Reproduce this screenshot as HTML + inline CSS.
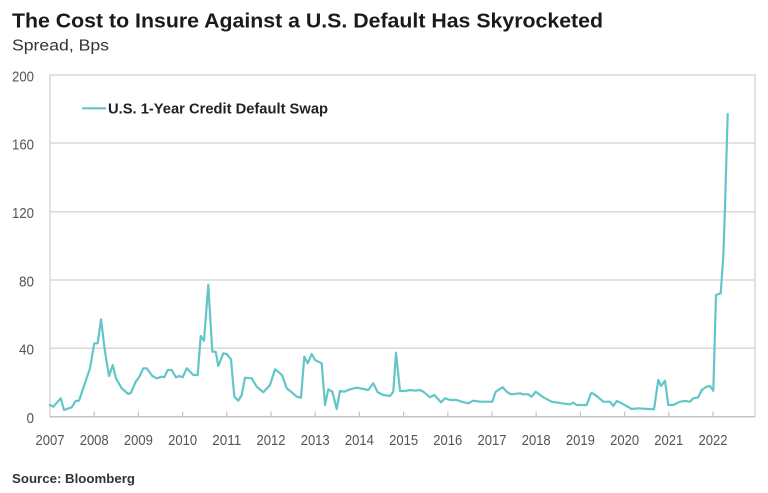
<!DOCTYPE html>
<html><head><meta charset="utf-8"><style>
html,body{margin:0;padding:0;background:#fff;}
svg{display:block;}
text{font-family:"Liberation Sans",Arial,sans-serif;}
</style></head><body>
<svg width="768" height="493" viewBox="0 0 768 493" xmlns="http://www.w3.org/2000/svg">
<rect width="768" height="493" fill="#fff"/>
<text x="12" y="27.5" font-size="20" font-weight="bold" fill="#1a1a1a" textLength="591" lengthAdjust="spacingAndGlyphs">The Cost to Insure Against a U.S. Default Has Skyrocketed</text>
<text x="12" y="50.5" font-size="15.5" fill="#333" textLength="97" lengthAdjust="spacingAndGlyphs">Spread, Bps</text>
<!-- gridlines -->
<g stroke="#d9d9d9" stroke-width="1.5" fill="none">
<line x1="50" y1="143" x2="755" y2="143"/>
<line x1="50" y1="211.7" x2="755" y2="211.7"/>
<line x1="50" y1="280" x2="755" y2="280"/>
<line x1="50" y1="348.3" x2="755" y2="348.3"/>
<rect x="50" y="75" width="705" height="341.7"/>
</g>
<line x1="50" y1="416.7" x2="755" y2="416.7" stroke="#c4c4c4" stroke-width="1.5"/>
<g stroke="#c4c4c4" stroke-width="1.2">
<line x1="94.2" y1="411.5" x2="94.2" y2="416.7"/>
<line x1="138.4" y1="411.5" x2="138.4" y2="416.7"/>
<line x1="182.6" y1="411.5" x2="182.6" y2="416.7"/>
<line x1="226.8" y1="411.5" x2="226.8" y2="416.7"/>
<line x1="271" y1="411.5" x2="271" y2="416.7"/>
<line x1="315.2" y1="411.5" x2="315.2" y2="416.7"/>
<line x1="359.4" y1="411.5" x2="359.4" y2="416.7"/>
<line x1="403.6" y1="411.5" x2="403.6" y2="416.7"/>
<line x1="447.8" y1="411.5" x2="447.8" y2="416.7"/>
<line x1="492" y1="411.5" x2="492" y2="416.7"/>
<line x1="536.2" y1="411.5" x2="536.2" y2="416.7"/>
<line x1="580.4" y1="411.5" x2="580.4" y2="416.7"/>
<line x1="624.6" y1="411.5" x2="624.6" y2="416.7"/>
<line x1="668.8" y1="411.5" x2="668.8" y2="416.7"/>
<line x1="713" y1="411.5" x2="713" y2="416.7"/>
</g>
<!-- y labels -->
<g font-size="15" fill="#555" text-anchor="end">
<text x="34" y="81.5" textLength="22" lengthAdjust="spacingAndGlyphs">200</text>
<text x="34" y="149.5" textLength="22" lengthAdjust="spacingAndGlyphs">160</text>
<text x="34" y="218" textLength="22" lengthAdjust="spacingAndGlyphs">120</text>
<text x="34" y="286.5" textLength="15" lengthAdjust="spacingAndGlyphs">80</text>
<text x="34" y="354.5" textLength="15" lengthAdjust="spacingAndGlyphs">40</text>
<text x="34" y="423" textLength="7.5" lengthAdjust="spacingAndGlyphs">0</text>
</g>
<!-- x labels -->
<g font-size="15" fill="#555" text-anchor="middle">
<text x="50" y="445" textLength="29" lengthAdjust="spacingAndGlyphs">2007</text>
<text x="94.2" y="445" textLength="29" lengthAdjust="spacingAndGlyphs">2008</text>
<text x="138.4" y="445" textLength="29" lengthAdjust="spacingAndGlyphs">2009</text>
<text x="182.6" y="445" textLength="29" lengthAdjust="spacingAndGlyphs">2010</text>
<text x="226.8" y="445" textLength="29" lengthAdjust="spacingAndGlyphs">2011</text>
<text x="271" y="445" textLength="29" lengthAdjust="spacingAndGlyphs">2012</text>
<text x="315.2" y="445" textLength="29" lengthAdjust="spacingAndGlyphs">2013</text>
<text x="359.4" y="445" textLength="29" lengthAdjust="spacingAndGlyphs">2014</text>
<text x="403.6" y="445" textLength="29" lengthAdjust="spacingAndGlyphs">2015</text>
<text x="447.8" y="445" textLength="29" lengthAdjust="spacingAndGlyphs">2016</text>
<text x="492" y="445" textLength="29" lengthAdjust="spacingAndGlyphs">2017</text>
<text x="536.2" y="445" textLength="29" lengthAdjust="spacingAndGlyphs">2018</text>
<text x="580.4" y="445" textLength="29" lengthAdjust="spacingAndGlyphs">2019</text>
<text x="624.6" y="445" textLength="29" lengthAdjust="spacingAndGlyphs">2020</text>
<text x="668.8" y="445" textLength="29" lengthAdjust="spacingAndGlyphs">2021</text>
<text x="713" y="445" textLength="29" lengthAdjust="spacingAndGlyphs">2022</text>
</g>
<!-- legend -->
<line x1="82" y1="108.3" x2="106" y2="108.3" stroke="#62c6c9" stroke-width="2.2"/>
<text x="108" y="113.5" font-size="14.5" font-weight="bold" fill="#222" textLength="220" lengthAdjust="spacingAndGlyphs">U.S. 1-Year Credit Default Swap</text>
<!-- series -->
<polyline fill="none" stroke="#62c6c9" stroke-width="2.2" stroke-linejoin="round" stroke-linecap="round" points="
50,405 53.3,406.7 60.7,398.3 64,410 71.7,407.3 75.7,401 79,400.7 90,368.3 94.3,343.3 97.7,343.3 101,319.3 105,351.7 109,376 112.7,365 116,378.3 121.7,388.3 128.3,394 131,392.7 135.7,381.7 139,377.3 143.3,368.3 146.7,368.3 152.3,376 156.7,378.3 161.7,376.7 164.3,377.3 167.7,370 171.7,370 176,377.3 179.3,376 182.7,377.3 186.7,368.3 193.3,375 197.7,375 200.7,336 204,340.7 208.3,285 212.3,351.7 215.7,351.7 218.3,366 223.3,353.3 226.7,354 231,359.3 234.3,396.7 238.3,400.7 241.7,395 245,377.7 251.7,378.3 256.7,386.7 263.3,392.3 270,385 275,369.3 280,373.3 282.3,375.7 286.7,388.3 291.7,392.3 296.7,396.7 301,397.7 304.3,356.7 307.7,363.3 311.7,354 315,360 321.7,363.3 325,405 328.3,389.3 332.3,391.7 336.7,409 340,391 344.3,391.7 350,389.3 356.7,387.7 368.3,390 373.3,383.3 377.7,392.3 383.3,395 390,396 393.3,391.7 396,352.7 400,391 405,391 410,390 415,390.7 420,390 423.3,391.7 430,397.3 434.3,395 441,402.3 445,398.3 450,400 456.7,400 461.7,401.7 468.3,403.3 473.3,400.7 480,401.7 492.3,401.7 495.7,391.7 502.7,387.3 506.7,391.7 511,394.3 520,393.3 523.3,394.3 528.3,394.3 531.7,396.7 535.7,391.7 543.3,397.3 551.7,401.7 561.7,403.3 570,404.3 573.3,402.7 576.7,405 586.7,405 591,393.3 592.7,393.3 598.3,397.3 603.3,401.7 610,401.7 613.3,406 616.7,401 621.7,403.3 631.7,409 638.3,408.3 648.3,409 654,409.3 658.3,380 661,386 665,380.7 668.3,405 673.3,405 680,401.7 685,401 690,401.7 693.3,398.3 698.3,397.3 701.7,390 706.7,386.7 710,386 713.3,390.7 716,295 720.7,293.3 723.3,256.7 725,206.7 727.7,114"/>
<text x="12" y="483" font-size="13" font-weight="bold" fill="#333" textLength="123" lengthAdjust="spacingAndGlyphs">Source: Bloomberg</text>
</svg>
</body></html>
